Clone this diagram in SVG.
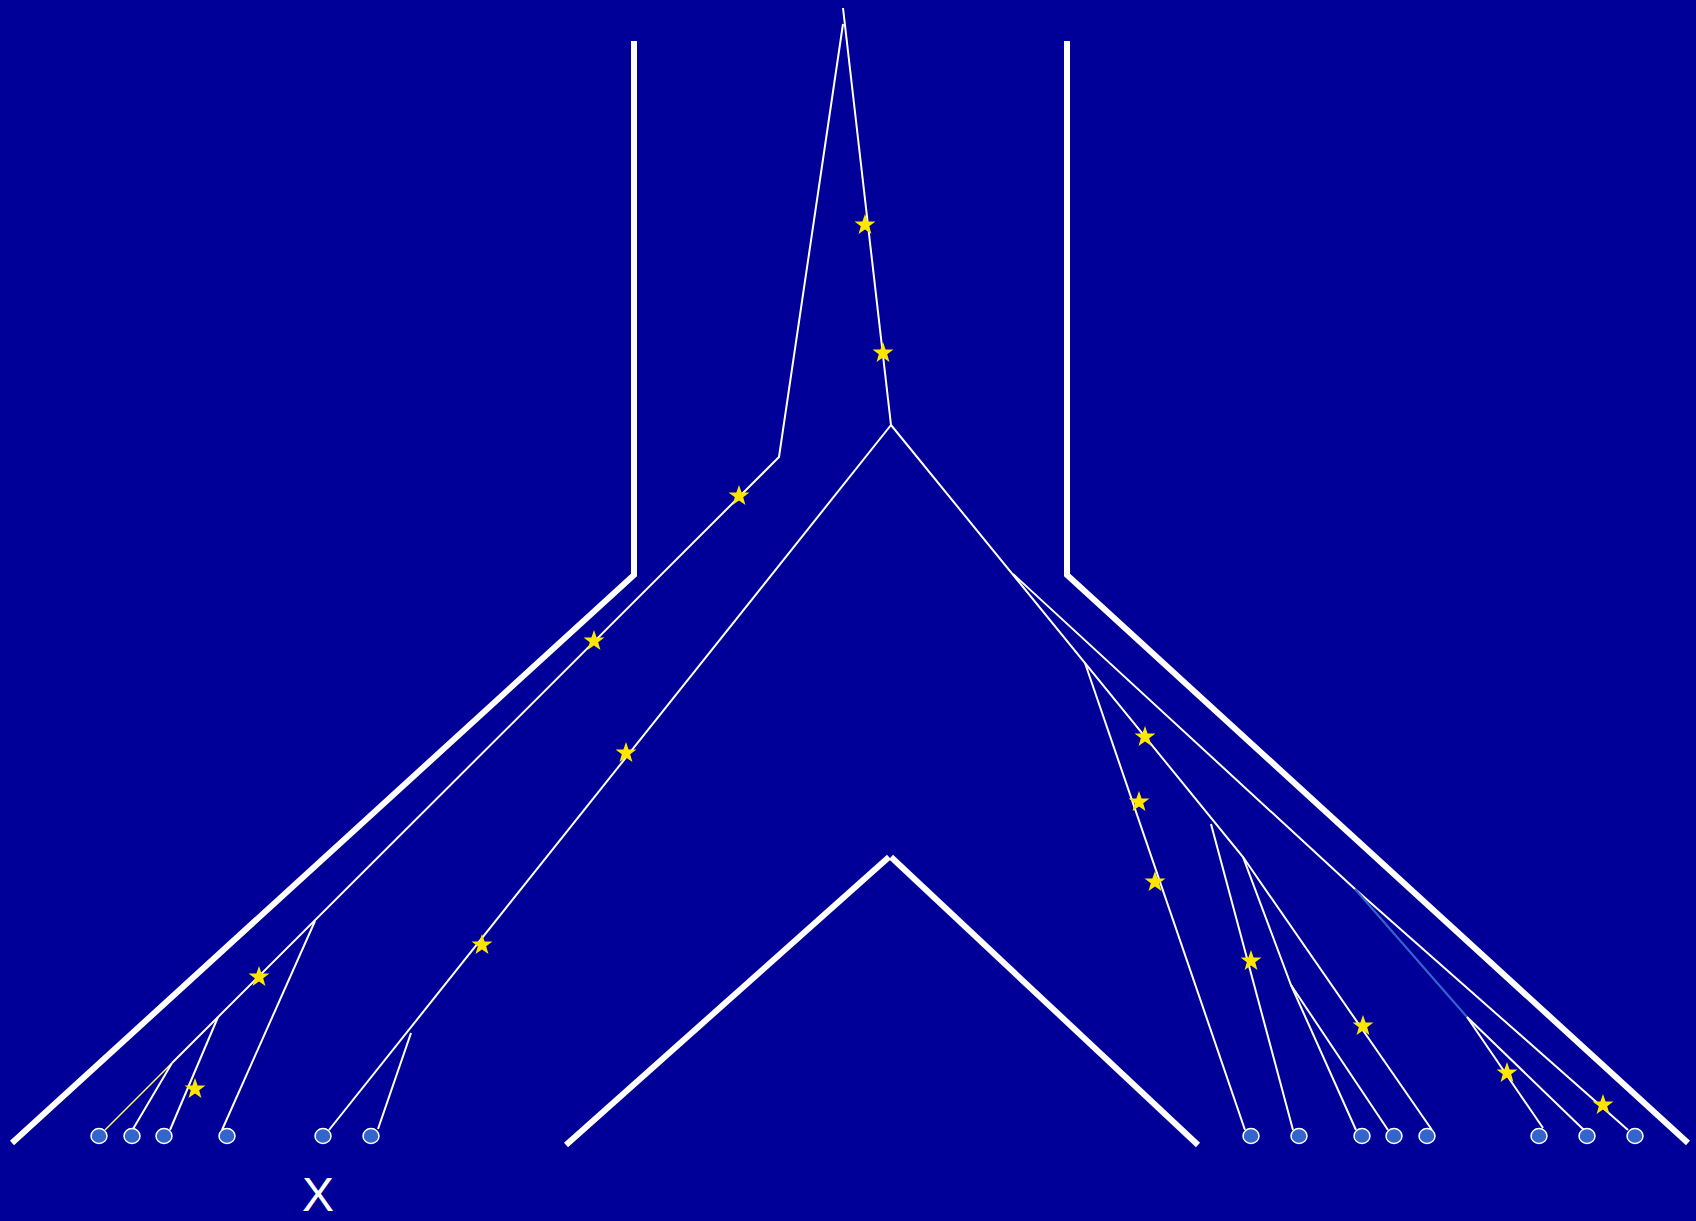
<svg xmlns="http://www.w3.org/2000/svg" width="1696" height="1221" viewBox="0 0 1696 1221">
<style>
.thick{fill:none;stroke:#FFFFFF;stroke-width:6;stroke-linejoin:miter}
.thin{fill:none;stroke:#FFFFFF;stroke-width:2}
.leaf{fill:#3366CC;stroke:#FFFFFF;stroke-width:1.5}
.star{fill:#FFE600}
.lbl{font-family:"Liberation Sans",Arial,sans-serif;font-size:48px;fill:#FFFFFF;text-anchor:middle}
</style>
<defs>
<polygon id="st" points="0,-11 2.6,-3.56 10.46,-3.4 4.18,1.36 6.47,8.9 0,4.4 -6.47,8.9 -4.18,1.36 -10.46,-3.4 -2.6,-3.56"/>
</defs>
<rect x="0" y="0" width="1696" height="1221" fill="#000099"/>
<g id="frame">
<polyline class="thick" points="634,41 634,575 12,1143"/>
<polyline class="thick" points="1067,41 1067,575 1688,1143"/>
<line class="thick" x1="566" y1="1145" x2="889" y2="857"/>
<line class="thick" x1="891" y1="857" x2="1198" y2="1145"/>
</g>
<g id="connectors">
<line class="thin" x1="843" y1="8" x2="891" y2="425"/>
<polyline class="thin" points="843,24 779,457 172,1063"/>
<line x1="172" y1="1063" x2="105" y2="1130" stroke="#FFFF66" stroke-width="1.5"/>
<line class="thin" x1="172" y1="1063" x2="133" y2="1129"/>
<line class="thin" x1="218" y1="1017" x2="170" y2="1130"/>
<line class="thin" x1="315" y1="921" x2="222" y2="1130"/>
<line class="thin" x1="891" y1="425" x2="329" y2="1130"/>
<line class="thin" x1="411" y1="1033" x2="378" y2="1129"/>
<polyline class="thin" points="891,425 1243,857 1291,985 1356,1130"/>
<line class="thin" x1="1291" y1="985" x2="1388" y2="1130"/>
<line class="thin" x1="1243" y1="857" x2="1432" y2="1130"/>
<line class="thin" x1="1085" y1="663" x2="1245" y2="1130"/>
<line class="thin" x1="1211" y1="824" x2="1293" y2="1130"/>
<polyline class="thin" points="1013,574 1355,889 1628,1130"/>
<line x1="1355" y1="889" x2="1467" y2="1017" stroke="#3366CC" stroke-width="2"/>
<line class="thin" x1="1467" y1="1017" x2="1543" y2="1128"/>
<line class="thin" x1="1467" y1="1017" x2="1585" y2="1131"/>
</g>
<g id="stars">
<use href="#st" class="star" x="865" y="225"/>
<use href="#st" class="star" x="883" y="353"/>
<use href="#st" class="star" x="739" y="496"/>
<use href="#st" class="star" x="594" y="641"/>
<use href="#st" class="star" x="626" y="753"/>
<use href="#st" class="star" x="482" y="945"/>
<use href="#st" class="star" x="259" y="977"/>
<use href="#st" class="star" x="195" y="1089"/>
<use href="#st" class="star" x="1145" y="737"/>
<use href="#st" class="star" x="1139" y="802"/>
<use href="#st" class="star" x="1155" y="882"/>
<use href="#st" class="star" x="1251" y="961"/>
<use href="#st" class="star" x="1363" y="1026"/>
<use href="#st" class="star" x="1507" y="1073"/>
<use href="#st" class="star" x="1603" y="1105"/>
</g>
<g id="leaves">
<ellipse id="n1" class="leaf" cx="99" cy="1136" rx="8" ry="7.5"/>
<ellipse id="n2" class="leaf" cx="132" cy="1136" rx="8" ry="7.5"/>
<ellipse id="n3" class="leaf" cx="164" cy="1136" rx="8" ry="7.5"/>
<ellipse id="n4" class="leaf" cx="227" cy="1136" rx="8" ry="7.5"/>
<ellipse id="n5" class="leaf" cx="323" cy="1136" rx="8" ry="7.5"/>
<ellipse id="n6" class="leaf" cx="371" cy="1136" rx="8" ry="7.5"/>
<ellipse id="n7" class="leaf" cx="1251" cy="1136" rx="8" ry="7.5"/>
<ellipse id="n8" class="leaf" cx="1299" cy="1136" rx="8" ry="7.5"/>
<ellipse id="n9" class="leaf" cx="1362" cy="1136" rx="8" ry="7.5"/>
<ellipse id="n10" class="leaf" cx="1394" cy="1136" rx="8" ry="7.5"/>
<ellipse id="n11" class="leaf" cx="1427" cy="1136" rx="8" ry="7.5"/>
<ellipse id="n12" class="leaf" cx="1539" cy="1136" rx="8" ry="7.5"/>
<ellipse id="n13" class="leaf" cx="1587" cy="1136" rx="8" ry="7.5"/>
<ellipse id="n14" class="leaf" cx="1635" cy="1136" rx="8" ry="7.5"/>
</g>
<g id="label">
<text class="lbl" x="318" y="1211">X</text>
</g>
</svg>
